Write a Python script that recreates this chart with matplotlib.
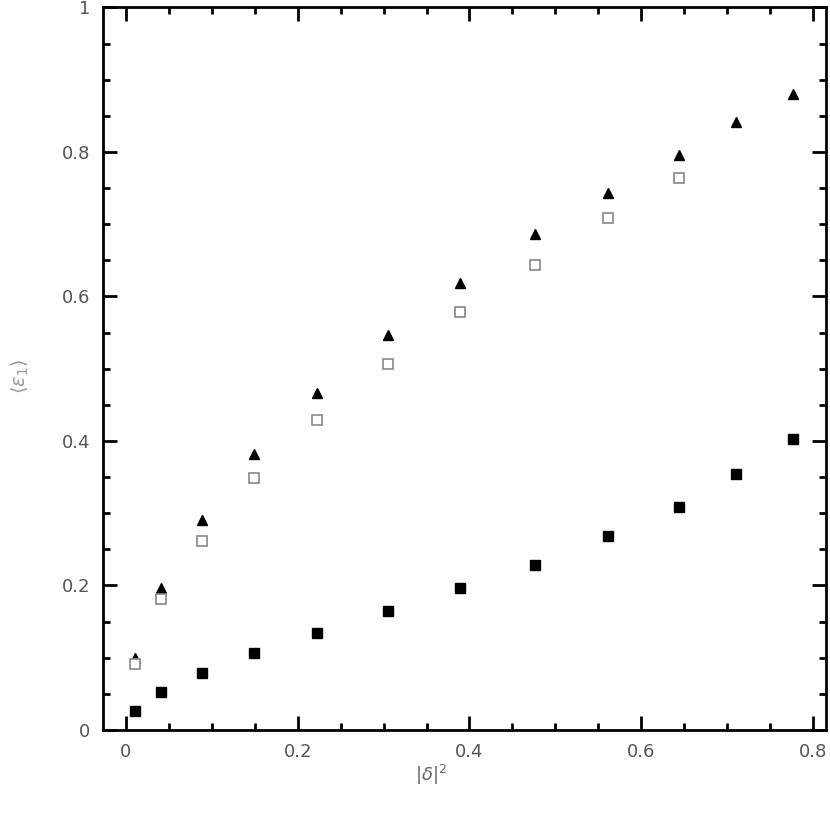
import matplotlib
matplotlib.use("Agg")
import matplotlib.pyplot as plt
from matplotlib.ticker import MultipleLocator

# |delta|^2 positions
x_tri = [0.011, 0.041, 0.088, 0.149, 0.222, 0.305, 0.389, 0.476, 0.561, 0.644, 0.710, 0.777]
y_tri = [0.099, 0.196, 0.291, 0.382, 0.466, 0.546, 0.619, 0.686, 0.743, 0.796, 0.841, 0.880]

x_open = [0.011, 0.041, 0.088, 0.149, 0.222, 0.305, 0.389, 0.476, 0.561, 0.644]
y_open = [0.091, 0.181, 0.262, 0.349, 0.429, 0.506, 0.578, 0.644, 0.708, 0.764]

x_fill = [0.011, 0.041, 0.088, 0.149, 0.222, 0.305, 0.389, 0.476, 0.561, 0.644, 0.710, 0.777]
y_fill = [0.026, 0.052, 0.079, 0.106, 0.134, 0.164, 0.196, 0.229, 0.268, 0.308, 0.354, 0.403]

fig = plt.figure(figsize=(8.30, 8.23), dpi=100)
ax = fig.add_axes([0.124, 0.113, 0.871, 0.878])

ax.plot(x_tri, y_tri, '^', color='black', markersize=7.5, linestyle='none')
ax.plot(x_open, y_open, 's', markerfacecolor='white', markeredgecolor='#888888',
        markeredgewidth=1.2, markersize=7, linestyle='none')
ax.plot(x_fill, y_fill, 's', color='black', markersize=6.5, linestyle='none')

ax.set_xlim(-0.0268, 0.815)
ax.set_ylim(0, 1)
ax.xaxis.set_minor_locator(MultipleLocator(0.05))
ax.yaxis.set_minor_locator(MultipleLocator(0.05))
ax.set_xticks([0, 0.2, 0.4, 0.6, 0.8])
ax.set_xticklabels(['0', '0.2', '0.4', '0.6', '0.8'])
ax.set_yticks([0, 0.2, 0.4, 0.6, 0.8, 1.0])
ax.set_yticklabels(['0', '0.2', '0.4', '0.6', '0.8', '1'])

for s in ax.spines.values():
    s.set_linewidth(2)
ax.tick_params(which='both', direction='in', top=True, right=True,
               width=2, labelsize=13, labelcolor='#555555')
ax.tick_params(which='major', length=10, pad=9)
ax.tick_params(which='minor', length=5)

ax.set_xlabel(r'$|\delta|^2$', fontsize=13, color='#666666')
ax.xaxis.set_label_coords(0.454, -0.045)
ax.set_ylabel(r'$\langle\epsilon_1\rangle$', fontsize=14, color='#999999')
ax.yaxis.set_label_coords(-0.10, 0.49)

fig.savefig('out.png', dpi=100)
